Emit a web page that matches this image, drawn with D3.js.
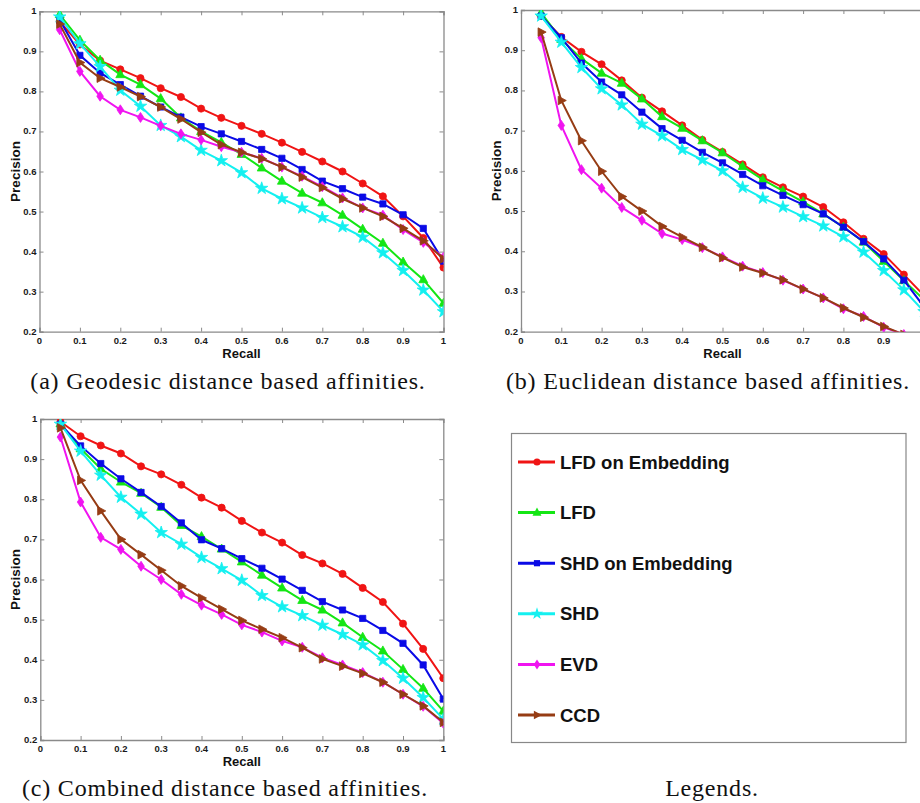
<!DOCTYPE html>
<html>
<head>
<meta charset="utf-8">
<script src="https://cdn.jsdelivr.net/npm/d3@7"></script>
<style>
  body { margin: 0; background: #fff; }
  svg { display: block; }
</style>
</head>
<body>
<svg width="920" height="803"></svg>
<script>
var recall = [0.05, 0.1, 0.15, 0.2, 0.25, 0.3, 0.35, 0.4, 0.45, 0.5,
              0.55, 0.6, 0.65, 0.7, 0.75, 0.8, 0.85, 0.9, 0.95, 1.0];

var seriesNames = ['LFD on Embedding', 'LFD', 'SHD on Embedding', 'SHD', 'EVD', 'CCD'];
var seriesColors = ['#f01414', '#14e614', '#0a0ae6', '#14f0f0', '#f014f0', '#963c14'];
var seriesMarkers = ['circle', 'triUp', 'square', 'star', 'diamond', 'triRight'];

var xTicks = [0, 0.1, 0.2, 0.3, 0.4, 0.5, 0.6, 0.7, 0.8, 0.9, 1];
var xTickLabels = ['0', '0.1', '0.2', '0.3', '0.4', '0.5', '0.6', '0.7', '0.8', '0.9', '1'];
var yTicks = [0.2, 0.3, 0.4, 0.5, 0.6, 0.7, 0.8, 0.9, 1];
var yTickLabels = ['0.2', '0.3', '0.4', '0.5', '0.6', '0.7', '0.8', '0.9', '1'];

// (a) geodesic distance
var geoLfdEmb = [0.975, 0.917, 0.877, 0.855, 0.833, 0.808, 0.786, 0.757, 0.734, 0.714,
                 0.694, 0.672, 0.649, 0.625, 0.600, 0.570, 0.538, 0.488, 0.434, 0.360];
var geoLfd    = [0.992, 0.928, 0.878, 0.842, 0.817, 0.782, 0.734, 0.700, 0.673, 0.643,
                 0.609, 0.576, 0.546, 0.522, 0.491, 0.456, 0.421, 0.374, 0.330, 0.271];
var geoShdEmb = [0.978, 0.890, 0.846, 0.817, 0.788, 0.761, 0.736, 0.712, 0.694, 0.675,
                 0.655, 0.633, 0.605, 0.576, 0.557, 0.536, 0.519, 0.492, 0.458, 0.376];
var geoShd    = [0.986, 0.919, 0.862, 0.803, 0.763, 0.715, 0.687, 0.653, 0.627, 0.597,
                 0.558, 0.532, 0.509, 0.485, 0.462, 0.436, 0.397, 0.353, 0.304, 0.250];
var geoEvd    = [0.954, 0.850, 0.788, 0.754, 0.735, 0.714, 0.694, 0.679, 0.662, 0.648,
                 0.633, 0.611, 0.588, 0.562, 0.534, 0.509, 0.491, 0.455, 0.423, 0.386];
var geoCcd    = [0.968, 0.872, 0.833, 0.811, 0.787, 0.761, 0.731, 0.698, 0.667, 0.648,
                 0.632, 0.611, 0.586, 0.560, 0.532, 0.509, 0.488, 0.458, 0.427, 0.382];

// (b) euclidean distance
var eucLfdEmb = [0.985, 0.933, 0.896, 0.865, 0.825, 0.782, 0.748, 0.713, 0.677, 0.647,
                 0.616, 0.584, 0.559, 0.536, 0.510, 0.472, 0.431, 0.393, 0.342, 0.290];
var eucLfd    = [0.993, 0.927, 0.879, 0.843, 0.818, 0.779, 0.735, 0.706, 0.675, 0.645,
                 0.611, 0.578, 0.550, 0.523, 0.493, 0.460, 0.423, 0.375, 0.327, 0.280];
var eucShdEmb = [0.985, 0.931, 0.868, 0.821, 0.789, 0.746, 0.705, 0.676, 0.646, 0.620,
                 0.591, 0.563, 0.539, 0.516, 0.493, 0.460, 0.424, 0.381, 0.328, 0.262];
var eucShd    = [0.985, 0.920, 0.857, 0.804, 0.764, 0.716, 0.687, 0.653, 0.627, 0.600,
                 0.559, 0.532, 0.510, 0.486, 0.463, 0.436, 0.398, 0.352, 0.304, 0.250];
var eucEvd    = [0.931, 0.713, 0.603, 0.557, 0.509, 0.477, 0.444, 0.429, 0.409, 0.386,
                 0.363, 0.347, 0.328, 0.306, 0.284, 0.257, 0.238, 0.211, 0.193, 0.170];
var eucCcd    = [0.945, 0.775, 0.675, 0.599, 0.536, 0.500, 0.462, 0.435, 0.410, 0.384,
                 0.361, 0.346, 0.329, 0.306, 0.284, 0.259, 0.236, 0.213, 0.193, 0.170];

// (c) combined distance
var comLfdEmb = [0.993, 0.957, 0.934, 0.914, 0.882, 0.862, 0.836, 0.804, 0.779, 0.746,
                 0.717, 0.692, 0.661, 0.640, 0.614, 0.579, 0.544, 0.490, 0.427, 0.354];
var comLfd    = [0.988, 0.926, 0.876, 0.843, 0.815, 0.780, 0.735, 0.707, 0.676, 0.644,
                 0.611, 0.579, 0.548, 0.524, 0.492, 0.456, 0.422, 0.376, 0.329, 0.272];
var comShdEmb = [0.987, 0.933, 0.889, 0.851, 0.817, 0.782, 0.741, 0.699, 0.677, 0.652,
                 0.628, 0.601, 0.573, 0.545, 0.524, 0.503, 0.473, 0.441, 0.387, 0.302];
var comShd    = [0.987, 0.920, 0.860, 0.805, 0.763, 0.717, 0.688, 0.655, 0.627, 0.598,
                 0.560, 0.532, 0.510, 0.486, 0.463, 0.437, 0.398, 0.354, 0.306, 0.252];
var comEvd    = [0.955, 0.793, 0.705, 0.675, 0.633, 0.600, 0.563, 0.536, 0.513, 0.487,
                 0.469, 0.447, 0.431, 0.405, 0.387, 0.368, 0.344, 0.314, 0.284, 0.242];
var comCcd    = [0.978, 0.847, 0.771, 0.700, 0.662, 0.623, 0.584, 0.554, 0.526, 0.498,
                 0.476, 0.455, 0.430, 0.402, 0.384, 0.366, 0.344, 0.314, 0.285, 0.244];

var captions = ['(a) Geodesic distance based affinities.',
                '(b) Euclidean distance based affinities.',
                '(c) Combined distance based affinities.'];
var legendCaption = 'Legends.';

var svg = d3.select('svg');
var pageW = 920;

var panels = [
  {id: 'a', left: 39.5, top: 11.3, w: 404, h: 320.4, cap: captions[0], capX: 228, capY: 389,
   data: [geoLfdEmb, geoLfd, geoShdEmb, geoShd, geoEvd, geoCcd]},
  {id: 'b', left: 521, top: 10, w: 403, h: 321.7, cap: captions[1], capX: 708, capY: 389,
   data: [eucLfdEmb, eucLfd, eucShdEmb, eucShd, eucEvd, eucCcd]},
  {id: 'c', left: 40.3, top: 419, w: 403, h: 321, cap: captions[2], capX: 225, capY: 796,
   data: [comLfdEmb, comLfd, comShdEmb, comShd, comEvd, comCcd]}
];

var axisGray = '#8a8a8a';
var captionFont = '24px "Liberation Serif", "DejaVu Serif", serif';

function markerPath(type) {
  switch (type) {
    case 'circle':   return d3.symbol(d3.symbolCircle, 40)();
    case 'square':   return 'M-3.1,-3.1L3.1,-3.1L3.1,3.1L-3.1,3.1Z';
    case 'triUp':    return 'M0,-5L4.5,3.1L-4.5,3.1Z';
    case 'triRight': return 'M5,0L-3.1,4.3L-3.1,-4.3Z';
    case 'diamond':  return 'M0,-5L3.3,0L0,5L-3.3,0Z';
    case 'star':     return d3.symbol(d3.symbolStar, 48)();
  }
}

panels.forEach(function(p) {
  var x = d3.scaleLinear().domain([0, 1]).range([p.left, p.left + p.w]);
  var y = d3.scaleLinear().domain([0.2, 1]).range([p.top + p.h, p.top]);

  var g = svg.append('g');

  svg.append('clipPath').attr('id', 'clip' + p.id)
    .append('rect').attr('x', p.left).attr('y', p.top).attr('width', p.w).attr('height', p.h);

  // inner ticks on all four sides, MATLAB style
  var bottom = d3.axisBottom(x).tickValues(xTicks).tickSize(-4).tickFormat('');
  var top = d3.axisTop(x).tickValues(xTicks).tickSize(-4).tickFormat('');
  var left = d3.axisLeft(y).tickValues(yTicks).tickSize(-4).tickFormat('');
  var right = d3.axisRight(y).tickValues(yTicks).tickSize(-4).tickFormat('');

  [[bottom, 0, p.top + p.h], [top, 0, p.top], [left, p.left, 0], [right, p.left + p.w, 0]].forEach(function(a) {
    var ag = g.append('g').attr('transform', 'translate(' + a[1] + ',' + a[2] + ')').call(a[0]);
    ag.selectAll('path').attr('stroke', axisGray).attr('stroke-width', 1.3);
    ag.selectAll('line').attr('stroke', axisGray).attr('stroke-width', 1);
  });

  // labels that would fall past the page edge are not drawn (panel b runs off the page)
  var shownX = xTicks.filter(function(d) { return x(d) + 4 < pageW; });

  g.selectAll('.xl').data(shownX).enter().append('text')
    .attr('x', function(d) { return x(d); })
    .attr('y', p.top + p.h + 12)
    .attr('text-anchor', 'middle')
    .style('font', 'bold 9.5px "Liberation Sans", Arial, sans-serif')
    .attr('fill', '#1a1a1a')
    .text(function(d) { return xTickLabels[xTicks.indexOf(d)]; });

  g.selectAll('.yl').data(yTicks).enter().append('text')
    .attr('x', p.left - 3)
    .attr('y', function(d) { return y(d) + 3; })
    .attr('text-anchor', 'end')
    .style('font', 'bold 9.5px "Liberation Sans", Arial, sans-serif')
    .attr('fill', '#1a1a1a')
    .text(function(d, i) { return yTickLabels[i]; });

  g.append('text')
    .attr('x', p.left + p.w / 2)
    .attr('y', p.top + p.h + 26)
    .attr('text-anchor', 'middle')
    .style('font', 'bold 13px "Liberation Sans", Arial, sans-serif')
    .attr('fill', '#111')
    .text('Recall');

  g.append('text')
    .attr('transform', 'translate(' + (p.left - 20) + ',' + (p.top + p.h / 2) + ') rotate(-90)')
    .attr('text-anchor', 'middle')
    .style('font', 'bold 13.5px "Liberation Sans", Arial, sans-serif')
    .attr('fill', '#111')
    .text('Precision');

  var plot = g.append('g').attr('clip-path', 'url(#clip' + p.id + ')');
  var line = d3.line().x(function(d, i) { return x(recall[i]); }).y(function(d) { return y(d); });

  p.data.forEach(function(vals, s) {
    plot.append('path').datum(vals)
      .attr('d', line)
      .attr('fill', 'none')
      .attr('stroke', seriesColors[s])
      .attr('stroke-width', 2);
    plot.selectAll('.m' + s).data(vals).enter().append('path')
      .attr('transform', function(d, i) { return 'translate(' + x(recall[i]) + ',' + y(d) + ')'; })
      .attr('d', markerPath(seriesMarkers[s]))
      .attr('fill', seriesColors[s])
      .attr('stroke', seriesColors[s])
      .attr('stroke-width', 0.8);
  });

  svg.append('text')
    .attr('x', p.capX).attr('y', p.capY)
    .attr('text-anchor', 'middle')
    .style('font', captionFont)
    .style('letter-spacing', '0.8px')
    .attr('fill', '#111')
    .text(p.cap);
});

// legend box
var lg = svg.append('g');
lg.append('rect')
  .attr('x', 511.5).attr('y', 433.5).attr('width', 394.5).attr('height', 309)
  .attr('fill', '#fff').attr('stroke', '#888').attr('stroke-width', 1.2);

var legendY = d3.scalePoint().domain(seriesNames).range([462, 715]);

seriesNames.forEach(function(name, s) {
  var cy = legendY(name);
  lg.append('line')
    .attr('x1', 518).attr('x2', 555).attr('y1', cy).attr('y2', cy)
    .attr('stroke', seriesColors[s]).attr('stroke-width', 3);
  lg.append('path')
    .attr('transform', 'translate(537,' + cy + ')')
    .attr('d', markerPath(seriesMarkers[s]))
    .attr('fill', seriesColors[s]);
  lg.append('text')
    .attr('x', 560).attr('y', cy + 6.5)
    .style('font', 'bold 18.5px "Liberation Sans", Arial, sans-serif')
    .attr('fill', '#111')
    .text(name);
});

svg.append('text')
  .attr('x', 712).attr('y', 796)
  .attr('text-anchor', 'middle')
  .style('font', captionFont)
  .style('letter-spacing', '0.8px')
  .attr('fill', '#111')
  .text(legendCaption);
</script>
</body>
</html>
